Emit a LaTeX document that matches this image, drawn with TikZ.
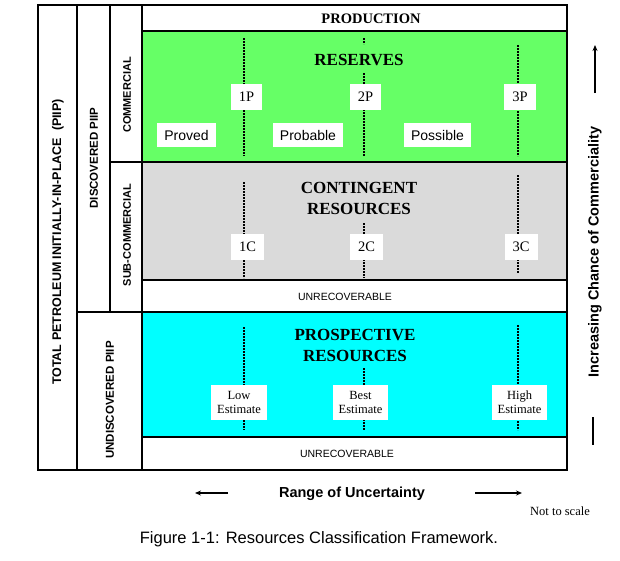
\documentclass[tikz,border=0pt]{standalone}
\usepackage{fontspec}
\setmainfont{Liberation Serif}
\setsansfont{Liberation Sans}
\usetikzlibrary{arrows.meta}
\definecolor{resgreen}{RGB}{102,255,102}
\definecolor{congray}{RGB}{218,218,218}
\definecolor{procyan}{RGB}{0,255,255}
\tikzset{
  frame/.style={draw=black, line width=1.8pt},
  dotline/.style={black, line width=2pt, dash pattern=on 1.6pt off 1.4pt},
  lab/.style={fill=white, inner sep=0pt, font=\fontsize{14.5}{16}\selectfont, minimum height=26pt},
  sanslab/.style={fill=white, inner sep=0pt, font=\sffamily\fontsize{14}{16}\selectfont, minimum height=24pt},
  estlab/.style={fill=white, inner sep=0pt, align=center, minimum height=35pt, minimum width=55pt, font=\fontsize{12.5}{14}\selectfont},
  head/.style={align=center, font=\bfseries\fontsize{17}{21}\selectfont, inner sep=0pt},
  vlab/.style={rotate=90, font=\sffamily\bfseries, inner sep=0pt},
  arr/.style={line width=1.8pt, -{Stealth[length=6pt,width=5pt]}}
}
\begin{document}
\begin{tikzpicture}[x=1pt,y=-1pt]
\useasboundingbox (0,0) rectangle (620,560);
\fill[white] (0,0) rectangle (620,560);
% fills
\fill[resgreen] (142,31) rectangle (567,162);
\fill[congray] (142,162) rectangle (567,280);
\fill[procyan] (142,312) rectangle (567,437);
% dotted lines
\draw[dotline] (244,38) -- (244,156);
\draw[dotline] (364,38) -- (364,44);
\draw[dotline] (364,73) -- (364,156);
\draw[dotline] (518,45) -- (518,156);
\draw[dotline] (244,182) -- (244,278);
\draw[dotline] (364,223) -- (364,278);
\draw[dotline] (518,175) -- (518,273);
\draw[dotline] (244,327) -- (244,430);
\draw[dotline] (364,368) -- (364,430);
\draw[dotline] (518,325) -- (518,430);
% frame lines
\draw[frame] (38,5) rectangle (567,470);
\draw[frame] (77,5) -- (77,470);
\draw[frame] (110,5) -- (110,312);
\draw[frame] (142,5) -- (142,470);
\draw[frame] (110,162) -- (567,162);
\draw[frame] (142,31) -- (567,31);
\draw[frame] (142,280) -- (567,280);
\draw[frame] (77,312) -- (567,312);
\draw[frame] (142,437) -- (567,437);
% left column labels
\node[vlab, font=\sffamily\bfseries\fontsize{12.5}{14}\selectfont] (piip) at (58,242) {TOTAL PETROLEUM INITIALLY-IN-PLACE\ \ (PIIP)};
\node[vlab, font=\sffamily\bfseries\fontsize{11.5}{14}\selectfont] (disc) at (94,158) {DISCOVERED PIIP};
\node[vlab, font=\sffamily\bfseries\fontsize{11}{14}\selectfont] (comm) at (127,95) {COMMERCIAL};
\node[vlab, font=\sffamily\bfseries\fontsize{11}{14}\selectfont] (subc) at (127,235) {SUB-COMMERCIAL};
\node[vlab, font=\sffamily\bfseries\fontsize{11.5}{14}\selectfont] (undisc) at (110,400) {UNDISCOVERED PIIP};
% headings
\node[font=\bfseries\fontsize{14.5}{16}\selectfont, inner sep=0pt] (prod) at (371,19) {PRODUCTION};
\node[head] (res) at (359,59.5) {RESERVES};
\node[head] (cont) at (359,198) {CONTINGENT\\RESOURCES};
\node[head] (pros) at (355,345) {PROSPECTIVE\\RESOURCES};
\node[font=\sffamily\fontsize{10.5}{12}\selectfont, inner sep=0pt] (unrec1) at (345,297) {UNRECOVERABLE};
\node[font=\sffamily\fontsize{10.5}{12}\selectfont, inner sep=0pt] (unrec2) at (347,454) {UNRECOVERABLE};
% reserves labels
\node[lab, minimum width=31pt] (p1) at (246.5,97) {1P};
\node[lab, minimum width=31pt] (p2) at (365.5,97) {2P};
\node[lab, minimum width=32pt] (p3) at (520,97) {3P};
\node[sanslab, minimum width=59pt] (proved) at (186.5,135) {Proved};
\node[sanslab, minimum width=70pt] (probable) at (308,135) {Probable};
\node[sanslab, minimum width=67pt] (possible) at (437.5,135) {Possible};
% contingent labels
\node[lab, minimum width=33pt] (c1) at (247.5,247) {1C};
\node[lab, minimum width=33pt] (c2) at (366.5,247) {2C};
\node[lab, minimum width=33pt] (c3) at (521,247) {3C};
% prospective labels
\node[estlab, minimum width=56pt] (low) at (239,402.5) {Low\\Estimate};
\node[estlab] (best) at (360.5,402.5) {Best\\Estimate};
\node[estlab] (high) at (519.5,402.5) {High\\Estimate};
% right side
\node[vlab, font=\sffamily\bfseries\fontsize{14.5}{16}\selectfont] (incr) at (595,252) {Increasing Chance of Commerciality};
\coordinate (ua) at (595,93);
\coordinate (ub) at (595,45);
\draw[arr] (ua) -- (ub);
\coordinate (la) at (593,417);
\coordinate (lb) at (593,445);
\draw[line width=1.8pt] (la) -- (lb);
% bottom
\node[font=\sffamily\bfseries\fontsize{14.5}{16}\selectfont, inner sep=0pt] (range) at (352,494) {Range of Uncertainty};
\coordinate (l1) at (228,493);
\coordinate (l2) at (195,493);
\draw[arr] (l1) -- (l2);
\coordinate (r1) at (475,493);
\coordinate (r2) at (522,493);
\draw[arr] (r1) -- (r2);
\node[font=\fontsize{12.5}{14}\selectfont, inner sep=0pt] (nts) at (560,511) {Not to scale};
\node[font=\sffamily\fontsize{16.5}{18}\selectfont, inner sep=0pt] (cap) at (319,539) {Figure 1-1: Resources Classification Framework.};
\end{tikzpicture}
\end{document}
